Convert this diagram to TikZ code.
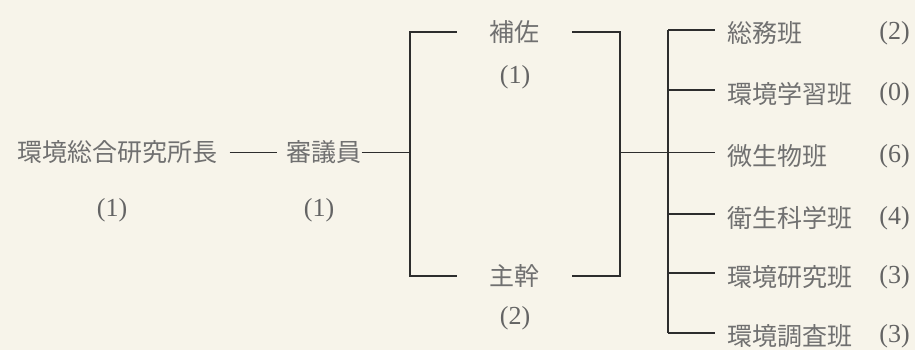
\documentclass[tikz,border=0pt]{standalone}
\usepackage{fontspec}
\newfontfamily\jp{Noto Sans CJK JP}
\newfontfamily\numf{Liberation Serif}
\definecolor{bgc}{RGB}{247,244,234}
\definecolor{txt}{RGB}{112,112,112}
\definecolor{ctxt}{RGB}{100,100,100}
\definecolor{ln}{RGB}{45,45,45}
\begin{document}
\begin{tikzpicture}[x=1pt,y=-1pt,
  jname/.style={text=txt,font=\jp\fontsize{25}{28}\selectfont,inner sep=0pt},
  cnt/.style={text=ctxt,font=\numf\fontsize{26}{29}\selectfont,inner sep=0pt},
  conn/.style={draw=ln,line width=1.8pt}]
\fill[bgc] (0,0) rectangle (915,350);
\useasboundingbox (0,0) rectangle (915,350);
% left part
\node[jname,inner xsep=12pt] (chief) at (117.5,152.5) {環境総合研究所長};
\node[cnt] (chiefc) at (112,210) {(1)};
\node[jname] (coun) at (324,152.5) {審議員};
\node[cnt] (counc) at (319,210) {(1)};
\coordinate (L) at (410,152.5);
\coordinate (R) at (620,152.5);
\coordinate (T) at (668,152.5);
\draw[conn,shorten >=9pt] (chief.east) -- (coun.west);
\draw[conn] (coun.east) -- (L);
% bracket
\node[jname,minimum width=115pt] (hosa) at (514.5,32) {補佐};
\node[cnt] (hosac) at (515,77) {(1)};
\node[jname,minimum width=115pt] (shukan) at (514.5,276) {主幹};
\node[cnt] (shukanc) at (515,318) {(2)};
\draw[conn] (hosa.west) -| (L) |- (shukan.west);
\draw[conn] (hosa.east) -| (R) |- (shukan.east);
\draw[conn] (R) -- (T);
% right tree
\coordinate (e1) at (715,30);
\coordinate (e2) at (715,90);
\coordinate (e3) at (715,152.5);
\coordinate (e4) at (715,214);
\coordinate (e5) at (715,273);
\coordinate (e6) at (715,333);
\node[jname,anchor=west] (n1) at (727,33) {総務班};
\node[jname,anchor=west] (n2) at (727,94) {環境学習班};
\node[jname,anchor=west] (n3) at (727,156) {微生物班};
\node[jname,anchor=west] (n4) at (727,218) {衛生科学班};
\node[jname,anchor=west] (n5) at (727,277) {環境研究班};
\node[jname,anchor=west] (n6) at (727,336) {環境調査班};
\node[cnt] (c1) at (894.5,33) {(2)};
\node[cnt] (c2) at (894.5,94) {(0)};
\node[cnt] (c3) at (894.5,156) {(6)};
\node[cnt] (c4) at (894.5,218) {(4)};
\node[cnt] (c5) at (894.5,277) {(3)};
\node[cnt] (c6) at (894.5,336) {(3)};
\draw[conn] (T |- e1) -- (T |- e6);
\foreach \i in {1,...,6} {\draw[conn] (T |- e\i) -- (e\i);}
\end{tikzpicture}
\end{document}
